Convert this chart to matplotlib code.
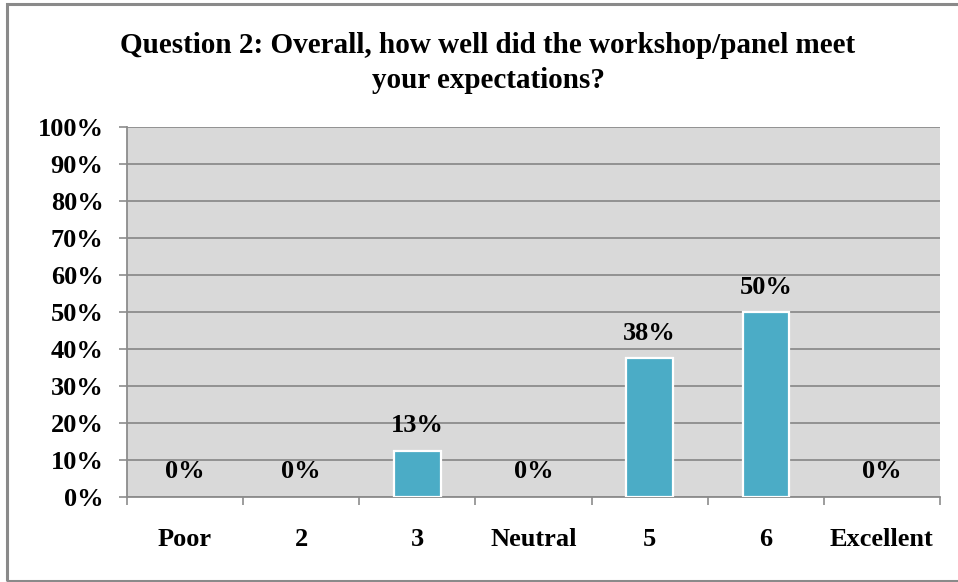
import matplotlib
matplotlib.use("Agg")
import matplotlib.pyplot as plt
from matplotlib.patches import Rectangle
import numpy as np

categories = ["Poor", "2", "3", "Neutral", "5", "6", "Excellent"]
values = [0.0, 0.0, 12.5, 0.0, 37.5, 50.0, 0.0]
labels = ["0%", "0%", "13%", "0%", "38%", "50%", "0%"]
yticks = [0, 10, 20, 30, 40, 50, 60, 70, 80, 90, 100]
title = "Question 2: Overall, how well did the workshop/panel meet\nyour expectations?"

plt.rcParams['font.family'] = ['Liberation Serif', 'DejaVu Serif']

W, H = 958, 582
fig = plt.figure(figsize=(W / 100, H / 100), dpi=100)
fig.patch.set_facecolor("white")

# outer chart border
fig.patches.append(Rectangle((7 / W, 1.5 / H), 1.2, (H - 5.5) / H, transform=fig.transFigure,
                             fill=False, edgecolor="#8a8a8a", linewidth=2.2, zorder=0))

left, right, top, bottom = 127, 940, 127, 497
ax = fig.add_axes([left / W, (H - bottom) / H, (right - left) / W, (bottom - top) / H])
ax.set_facecolor("#D9D9D9")

x = np.arange(len(categories))
edges = ["white" if v > 0 else "none" for v in values]
ax.bar(x, values, width=0.4, color="#4BACC6", edgecolor=edges, linewidth=1.6, zorder=3)

fs = 19
for xi, v, lab in zip(x, values, labels):
    ax.annotate(lab, (xi, v), xytext=(0, 18), textcoords="offset points",
                ha="center", va="center", fontsize=fs, fontweight="bold", color="black")

ax.set_xlim(-0.5, len(categories) - 0.5)
ax.set_ylim(0, 100)
ax.set_yticks(yticks)
ax.set_yticklabels([f"{t}%" for t in yticks], fontsize=fs, fontweight="bold")
ax.yaxis.grid(True, color="#8c8c8c", linewidth=1.3, zorder=1)
ax.set_axisbelow(True)

ax.set_xticks(x)
ax.set_xticklabels(categories, fontsize=fs, fontweight="bold")
ax.set_xticks(np.arange(len(categories) + 1) - 0.5, minor=True)
ax.tick_params(axis="x", which="major", length=0, pad=22)
ax.tick_params(axis="x", which="minor", length=6, width=1.2, color="#8c8c8c", direction="out")
ax.tick_params(axis="y", length=6, width=1.2, color="#8c8c8c", direction="out", pad=11)

for s in ["top", "right"]:
    ax.spines[s].set_visible(False)
for s in ["left", "bottom"]:
    ax.spines[s].set_color("#8c8c8c")
    ax.spines[s].set_linewidth(1.3)

fig.text(488 / W, 1 - 63 / H, title, ha="center", va="center", fontsize=21,
         fontweight="bold", linespacing=1.35)

fig.savefig("out.png", dpi=100)
